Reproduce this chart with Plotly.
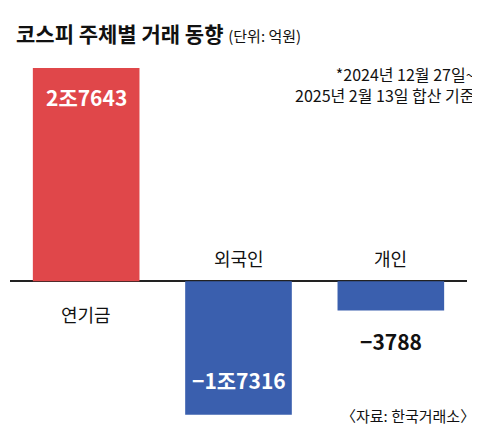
import plotly.graph_objects as go

categories = ["연기금", "외국인", "개인"]
values = [27643, -17316, -3788]
value_labels = ["2조7643", "−1조7316", "−3788"]
colors = ["#e0474a", "#3a5fae", "#3a5fae"]

FONT = "Noto Sans CJK KR"
ymax = 27643
ymin = -ymax * 146 / 212

fig = go.Figure(go.Bar(
    x=list(range(len(categories))), y=values, width=0.70,
    marker=dict(color=colors, line_width=0),
    hoverinfo="skip",
))

ann = []
# value labels
ann.append(dict(x=0, y=values[0], yref="y", text="<b>" + value_labels[0] + "</b>",
                yanchor="top", yshift=-12, font=dict(size=21, color="white")))
ann.append(dict(x=1, y=values[1], yref="y", text="<b>" + value_labels[1] + "</b>",
                yanchor="bottom", yshift=18, font=dict(size=21, color="white")))
ann.append(dict(x=2, y=values[2], yref="y", text="<b>" + value_labels[2] + "</b>",
                yanchor="top", yshift=-14, font=dict(size=21, color="#111")))
# category labels
ann.append(dict(x=0, y=0, yref="y", text=categories[0], yanchor="top", yshift=-18,
                font=dict(size=18, color="#111")))
for i in (1, 2):
    ann.append(dict(x=i, y=0, yref="y", text=categories[i], yanchor="bottom", yshift=8,
                    font=dict(size=18, color="#111")))
# titles & notes
ann.append(dict(x=0, y=1, xref="paper", yref="paper", xanchor="left", yanchor="top",
                yshift=52, xshift=4,
                text="<b>코스피 주체별 거래 동향</b> <span style='font-size:15px'>(단위: 억원)</span>",
                font=dict(size=21, color="#111")))
ann.append(dict(x=1, y=1, xref="paper", yref="paper", xanchor="right", yanchor="top",
                yshift=8, xshift=10, align="right",
                text="*2024년 12월 27일~<br>2025년 2월 13일 합산 기준",
                font=dict(size=16, color="#111")))
ann.append(dict(x=1, y=0, xref="paper", yref="paper", xanchor="right", yanchor="bottom",
                xshift=10, text="〈자료: 한국거래소〉", font=dict(size=15, color="#111")))
for a in ann:
    a.setdefault("xref", "x")
    a["showarrow"] = False

fig.update_layout(
    width=480, height=432,
    margin=dict(l=2, r=21, t=60, b=12),
    paper_bgcolor="white", plot_bgcolor="white",
    font=dict(family=FONT),
    showlegend=False,
    annotations=ann,
    xaxis=dict(range=[-0.5, 2.5], visible=False),
    yaxis=dict(range=[ymin, ymax], showticklabels=False, showgrid=False,
               zeroline=True, zerolinecolor="#222", zerolinewidth=1.5),
)

fig.write_html("out.html")
